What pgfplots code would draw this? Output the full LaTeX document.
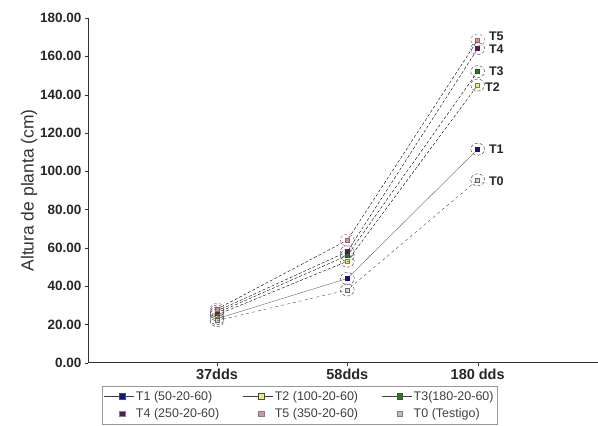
\documentclass[border=0pt]{standalone}
\usepackage{pgfplots}
\pgfplotsset{compat=1.18}
\usepackage{fontspec}
\setmainfont{Liberation Sans}
\definecolor{cT1}{RGB}{20,20,130}
\definecolor{cT2}{RGB}{235,235,120}
\definecolor{cT3}{RGB}{40,120,40}
\definecolor{cT4}{RGB}{80,30,80}
\definecolor{cT5}{RGB}{215,150,150}
\definecolor{cT0}{RGB}{190,190,190}
\pgfplotsset{
  lgline/.style={legend image code/.code={
    \draw[black!75,line width=0.6pt,solid] (0pt,0pt)--(30pt,0pt);
    \node[draw=black!70,fill=#1,inner sep=0pt,minimum size=5.5pt,solid] at (15pt,0pt) {};}},
  lgmark/.style={legend image code/.code={
    \path[draw=none] (0pt,0pt)--(30pt,0pt);
    \node[draw=black!50,fill=#1,inner sep=0pt,minimum size=5.5pt,solid] at (15pt,0pt) {};}},
}
\begin{document}
\begin{tikzpicture}
\begin{axis}[
  scale only axis,
  width=510pt, height=345pt,
  xmin=-0.99, xmax=2.92,
  ymin=0, ymax=180,
  axis x line=bottom, axis y line=left,
  axis line style={black!80,line width=0.8pt,-},
  xtick={0,1,2},
  xticklabels={37dds,58dds,180 dds},
  ytick={0,20,...,180},
  yticklabel style={font=\bfseries\fontsize{13.5}{15}\selectfont,
    /pgf/number format/fixed, /pgf/number format/fixed zerofill,
    /pgf/number format/precision=2, /pgf/number format/assume math mode=true},
  xticklabel style={font=\bfseries\fontsize{14.5}{16}\selectfont},
  ticklabel style={black!85},
  tick style={black!80},
  tick align=outside,
  major tick length=3pt,
  ylabel={Altura de planta (cm)},
  ylabel style={font=\fontsize{17.5}{20}\selectfont, black!80, yshift=-4pt},
  legend columns=3,
  legend style={at={(0.027,-0.067)}, anchor=north west, draw=black!40,
    font=\fontsize{12.5}{13}\selectfont, text=black!75,
    nodes={inner xsep=1.5pt, inner ysep=1.5pt},
    /tikz/every even column/.append style={column sep=22pt},
    row sep=4pt, inner xsep=2pt, inner ysep=3.5pt},
  legend cell align=left,
  clip=false,
]
% T1
\addplot[black!60, thin, mark=square*, mark size=2pt, mark options={solid,fill=cT1,draw=cT1}, lgline=cT1]
  coordinates {(0,23) (1,44) (2,111.5)};
\addlegendentry{T1 (50-20-60)}
% T2
\addplot[black, thin, densely dashed, mark=square*, mark size=2pt, mark options={solid,fill=cT2,draw=olive}, lgline=cT2]
  coordinates {(0,25) (1,53) (2,145)};
\addlegendentry{T2 (100-20-60)}
% T3
\addplot[black, thin, densely dashed, mark=square*, mark size=2pt, mark options={solid,fill=cT3,draw=cT3!70!black}, lgline=cT3]
  coordinates {(0,26) (1,56) (2,152)};
\addlegendentry{T3(180-20-60)}
% T4
\addplot[black, thin, densely dashed, mark=square*, mark size=2pt, mark options={solid,fill=cT4,draw=cT4}, lgmark=cT4]
  coordinates {(0,27) (1,58) (2,164)};
\addlegendentry{T4 (250-20-60)}
% T5
\addplot[black, thin, densely dashed, mark=square*, mark size=2pt, mark options={solid,fill=cT5,draw=cT5!70!black}, lgmark=cT5]
  coordinates {(0,28) (1,64) (2,168.5)};
\addlegendentry{T5 (350-20-60)}
% T0
\addplot[black!70, thin, dashed, mark=square*, mark size=2pt, mark options={solid,fill=cT0!60,draw=black!60}, lgmark=cT0]
  coordinates {(0,22) (1,38) (2,95.5)};
\addlegendentry{T0 (Testigo)}
% dashed rings around points
\addplot[only marks, forget plot, mark=o, mark size=6pt, mark options={draw=black!70, densely dashed, line width=0.5pt, xscale=1.15}]
  coordinates {(0,23) (1,44) (2,111.5) (0,25) (1,53) (2,145) (0,26) (1,56) (2,152)
               (0,27) (1,58) (2,164) (0,22) (1,38) (2,95.5)};
\addplot[only marks, forget plot, mark=o, mark size=6pt, mark options={draw=cT5!80!black, densely dashed, line width=0.5pt, xscale=1.15}]
  coordinates {(0,28) (1,64) (2,168.5)};
% labels
\node[anchor=west, font=\bfseries\fontsize{12.5}{14}\selectfont, black!85] at (axis cs:2.06,170.5) {T5};
\node[anchor=west, font=\bfseries\fontsize{12.5}{14}\selectfont, black!85] at (axis cs:2.06,163.5) {T4};
\node[anchor=west, font=\bfseries\fontsize{12.5}{14}\selectfont, black!85] at (axis cs:2.06,152) {T3};
\node[anchor=west, font=\bfseries\fontsize{12.5}{14}\selectfont, black!85] at (axis cs:2.03,144) {T2};
\node[anchor=west, font=\bfseries\fontsize{12.5}{14}\selectfont, black!85] at (axis cs:2.06,111.5) {T1};
\node[anchor=west, font=\bfseries\fontsize{12.5}{14}\selectfont, black!85] at (axis cs:2.06,95) {T0};
\end{axis}
\path ([shift={(-88pt,18pt)}]current axis.north west) rectangle ([shift={(0pt,-63pt)}]current axis.south east);
\end{tikzpicture}
\end{document}
